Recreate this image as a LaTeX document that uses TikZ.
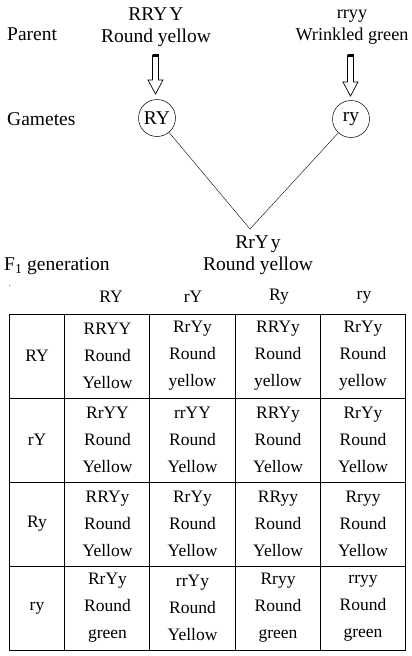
\documentclass[tikz,border=0pt]{standalone}
\usepackage{fontspec}
\setmainfont{Liberation Serif}
\begin{document}
\begin{tikzpicture}[x=1pt,y=-1pt,
  lbl/.style={inner sep=0pt,font=\fontsize{19.5}{21.5}\selectfont},
  cell/.style={inner sep=0pt,align=center,font=\fontsize{17.5}{27}\selectfont},
  hdr/.style={inner sep=0pt,font=\fontsize{17.5}{20}\selectfont},
  gam/.style={circle,draw,line width=0.5pt,minimum size=37pt,inner sep=0pt,font=\fontsize{19.5}{21}\selectfont},
  hollow/.style={draw,line width=0.7pt,fill=white},
  link/.style={draw,line width=0.4pt}]
\useasboundingbox (0,0) rectangle (412,656);
% labels
\node[lbl,anchor=west] (parent) at (7,34) {Parent};
\node[lbl,align=center] (p1) at (156,27) {RRY\kern2pt Y\\Round yellow};
\node[lbl,align=center,font=\fontsize{18.2}{21.5}\selectfont] (p2) at (352,27) {rryy\\Wrinkled green};
\node[lbl,anchor=west] (gametes) at (7,119) {Gametes};
% arrows
\draw[hollow] (152.5,55) -- (158.5,55) -- (158.5,80) -- (163,80) -- (155.5,94) -- (148,80) -- (152.5,80) -- cycle;
\fill (152.5,54) rectangle (158.5,57);
\draw[hollow] (347.5,55) -- (353.5,55) -- (353.5,82) -- (358,82) -- (350.5,96) -- (343,82) -- (347.5,82) -- cycle;
\fill (347.5,54) rectangle (353.5,57);
% gametes
\node[gam] (g1) at (157,118) {RY};
\node[gam] (g2) at (351,119) {ry};
\coordinate (apex) at (250,229);
\draw[link] (g1) -- (apex) -- (g2);
% F1
\node[lbl,align=center] (f1) at (258,255) {RrY\kern2pt y\\Round yellow};
\node[lbl,anchor=west] (f1lab) at (4,266) {F\textsubscript{1} generation};
\node[inner sep=0pt,font=\fontsize{8}{8}\selectfont] (dot) at (10,286) {.};
% column headers
\node[hdr] (c1) at (111,297) {RY};
\node[hdr] (c2) at (193,297) {rY};
\node[hdr] (c3) at (279,297) {Ry};
\node[hdr] (c4) at (364,297) {ry};
% table grid
\draw[line width=1pt] (9,314) rectangle (405.5,650);
\foreach \x in {64,149.5,235,320} \draw[line width=1pt] (\x,314) -- (\x,650);
\foreach \y in {398,482,566} \draw[line width=1pt] (9,\y) -- (405.5,\y);
% row headers
\node[hdr] (r1) at (37,356) {RY};
\node[hdr] (r2) at (37,440) {rY};
\node[hdr] (r3) at (37,524) {Ry};
\node[hdr] (r4) at (37,608) {ry};
% cells
\node[cell] (a11) at (107.5,356) {RRYY\\Round\\Yellow};
\node[cell] (a12) at (192.5,356) {RrYy\\Round\\yellow};
\node[cell] (a13) at (278,356) {RRYy\\Round\\yellow};
\node[cell] (a14) at (363,356) {RrYy\\Round\\yellow};
\node[cell] (a21) at (107.5,440) {RrYY\\Round\\Yellow};
\node[cell] (a22) at (192.5,440) {rrYY\\Round\\Yellow};
\node[cell] (a23) at (278,440) {RRYy\\Round\\Yellow};
\node[cell] (a24) at (363,440) {RrYy\\Round\\Yellow};
\node[cell] (a31) at (107.5,524) {RRYy\\Round\\Yellow};
\node[cell] (a32) at (192.5,524) {RrYy\\Round\\Yellow};
\node[cell] (a33) at (278,524) {RRyy\\Round\\Yellow};
\node[cell] (a34) at (363,524) {Rryy\\Round\\Yellow};
\node[cell] (a41) at (107.5,608) {RrYy\\Round\\green};
\node[cell] (a42) at (192.5,608) {rrYy\\Round\\Yellow};
\node[cell] (a43) at (278,608) {Rryy\\Round\\green};
\node[cell] (a44) at (363,608) {rryy\\Round\\green};
\end{tikzpicture}
\end{document}
